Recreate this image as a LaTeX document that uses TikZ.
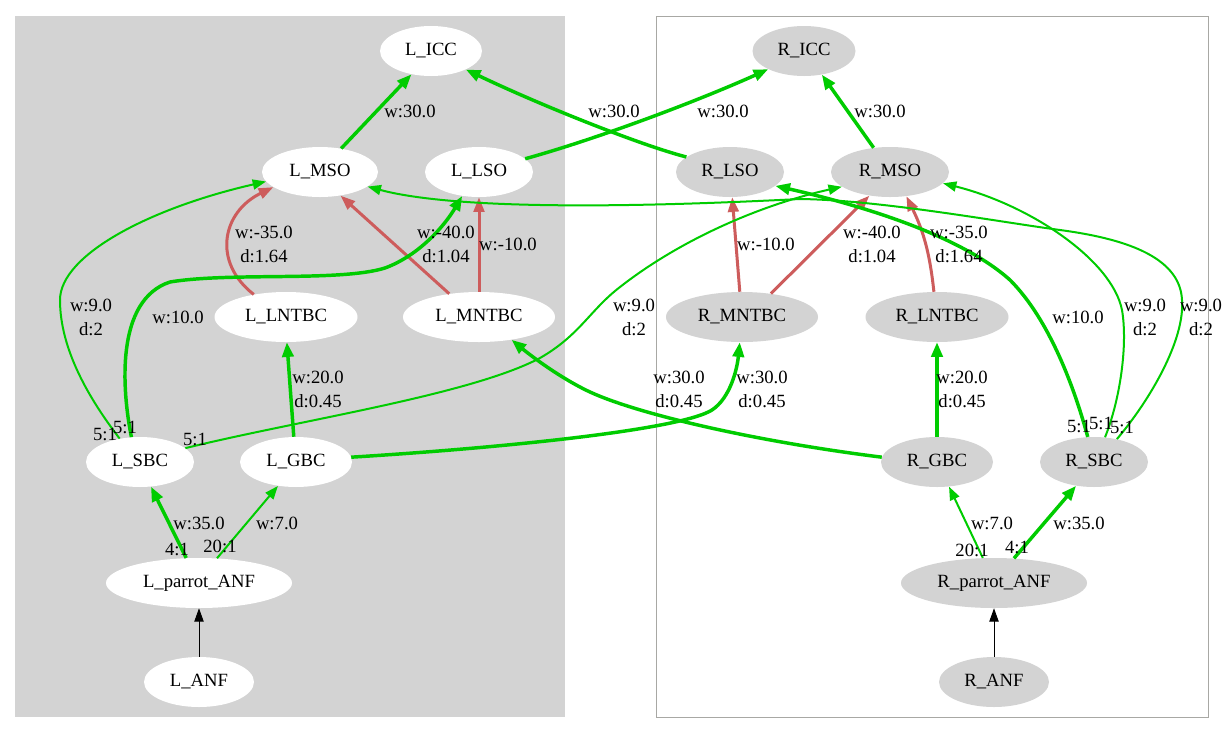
\documentclass[tikz,border=0pt]{standalone}
\usepackage{fontspec}
\setmainfont{Liberation Serif}
\usetikzlibrary{shapes.geometric,arrows.meta}
\definecolor{gr}{RGB}{0,204,0}
\definecolor{rd}{RGB}{205,92,92}
\definecolor{lg}{RGB}{211,211,211}
\definecolor{bx}{RGB}{168,168,164}
\tikzset{
 nd/.style={ellipse, inner sep=0pt, minimum height=37.5pt, font=\fontsize{14}{16}\selectfont},
 ln/.style={nd, fill=white},
 rn/.style={nd, fill=lg},
 lab/.style={font=\fontsize{14}{18}\selectfont, align=center, inner sep=0pt},
 thk/.style={draw=gr, line width=2.6pt, -{Triangle[length=11pt,width=8.5pt]}},
 thn/.style={draw=gr, line width=1.5pt, -{Triangle[length=10pt,width=7.5pt]}},
 rdd/.style={draw=rd, line width=2.25pt, -{Triangle[length=11pt,width=8pt]}},
 blk/.style={draw=black, line width=0.75pt, -{Triangle[length=10pt,width=7pt]}},
}
\begin{document}
\begin{tikzpicture}[x=0.75pt,y=-0.75pt]
\useasboundingbox (0,0) rectangle (1228,733);
\fill[white] (0,0) rectangle (1228,733);
% clusters
\fill[lg] (15,16) rectangle (565,717);
\draw[bx, line width=0.75pt] (656,16) rectangle (1208,717);
% left nodes
\node[ln, minimum width=76.5pt] (LICC) at (431,51) {L\_ICC};
\node[ln, minimum width=87pt] (LMSO) at (320,172) {L\_MSO};
\node[ln, minimum width=81pt] (LLSO) at (479,172) {L\_LSO};
\node[ln, minimum width=107.25pt] (LLNTBC) at (286,317) {L\_LNTBC};
\node[ln, minimum width=114pt] (LMNTBC) at (479,317) {L\_MNTBC};
\node[ln, minimum width=81pt] (LSBC) at (140,462) {L\_SBC};
\node[ln, minimum width=84pt] (LGBC) at (296,462) {L\_GBC};
\node[ln, minimum width=139.5pt] (LPANF) at (199,583) {L\_parrot\_ANF};
\node[ln, minimum width=82.5pt] (LANF) at (199,682) {L\_ANF};
% right nodes
\node[rn, minimum width=77.25pt] (RICC) at (804,51) {R\_ICC};
\node[rn, minimum width=81pt] (RLSO) at (730,172) {R\_LSO};
\node[rn, minimum width=88.5pt] (RMSO) at (890,172) {R\_MSO};
\node[rn, minimum width=114pt] (RMNTBC) at (742,317) {R\_MNTBC};
\node[rn, minimum width=107.25pt] (RLNTBC) at (937,317) {R\_LNTBC};
\node[rn, minimum width=84pt] (RGBC) at (937,462) {R\_GBC};
\node[rn, minimum width=81pt] (RSBC) at (1094,462) {R\_SBC};
\node[rn, minimum width=139.5pt] (RPANF) at (994,583) {R\_parrot\_ANF};
\node[rn, minimum width=82.5pt] (RANF) at (994,682) {R\_ANF};
% edges to ICC
\draw[thk] (LMSO.48) -- (LICC.230);
\draw[thk] (LLSO.16) .. controls (600,138) and (700,100) .. (RICC.207);
\draw[thk] (RLSO.161) .. controls (640,145) and (540,105) .. (LICC.-28);
\draw[thk] (RMSO.124) -- (RICC.-53);
% left red
\draw[rdd] (LLNTBC.145) .. controls (212,262) and (222,212) .. (LMSO.-162);
\draw[rdd] (LMNTBC.142) -- (LMSO.-49);
\draw[rdd] (LMNTBC.90) -- (LLSO.-90);
% right red
\draw[rdd] (RMNTBC.95) -- (RLSO.-85);
\draw[rdd] (RMNTBC.39) -- (RMSO.-131);
\draw[rdd] (RLNTBC.97) to[bend right=10] (RMSO.-56);
% left green
\draw[thn] (LSBC.131) .. controls (90,400) and (60,350) .. (60,300)
  .. controls (60,255) and (150,208) .. (LMSO.-170);
\draw[thk] (LSBC.109) .. controls (122,390) and (115,300) .. (170,282)
  .. controls (230,272) and (340,282) .. (385,268)
  .. controls (420,255) and (445,225) .. (LLSO.-125);
\draw[thk] (LGBC.95) -- (LLNTBC.-88);
\draw[thk] (LPANF.117) -- (LSBC.-66);
\draw[thn] (LPANF.54) -- (LGBC.-127);
\draw[blk] (LANF) -- (LPANF);
% crossing edges
\draw[thn] (LSBC.17) .. controls (300,420) and (470,395) .. (540,358)
  .. controls (580,335) and (590,310) .. (620,287)
  .. controls (680,240) and (760,205) .. (RMSO.-163);
\draw[thk] (LGBC.5) .. controls (500,448) and (680,430) .. (712,410)
  .. controls (730,398) and (737,370) .. (RMNTBC.-95);
\draw[thk] (RGBC.175) .. controls (760,442) and (640,415) .. (590,392)
  .. controls (560,378) and (530,355) .. (LMNTBC.-35);
\draw[thn] (RSBC.45) .. controls (1150,400) and (1185,340) .. (1182,300)
  .. controls (1180,255) and (1120,238) .. (1060,230)
  .. controls (1000,222) and (880,200) .. (800,199)
  .. controls (700,204) and (470,214) .. (LMSO.-17);
% right green
\draw[thk] (RSBC.104) .. controls (1075,390) and (1050,320) .. (1010,280)
  .. controls (960,235) and (860,205) .. (RLSO.-17);
\draw[thn] (RSBC.66) .. controls (1120,400) and (1128,345) .. (1122,310)
  .. controls (1112,260) and (1030,205) .. (RMSO.-12);
\draw[thk] (RGBC.90) -- (RLNTBC.-90);
\draw[thn] (RPANF.114) -- (RGBC.-64);
\draw[thk] (RPANF.51) -- (RSBC.-127);
\draw[blk] (RANF) -- (RPANF);
% labels
\node[lab] (t1) at (410,111) {w:30.0};
\node[lab] (t2) at (614,111) {w:30.0};
\node[lab] (t3) at (723,111) {w:30.0};
\node[lab] (t4) at (880,111) {w:30.0};
\node[lab] (t5) at (264,244) {w:-35.0\\d:1.64};
\node[lab] (t6) at (446,244) {w:-40.0\\d:1.04};
\node[lab] (t7) at (508,244) {w:-10.0};
\node[lab] (t8) at (91,317) {w:9.0\\d:2};
\node[lab] (t9) at (178,317) {w:10.0};
\node[lab] (t10) at (318,389) {w:20.0\\d:0.45};
\node[lab] (t11) at (199,523) {w:35.0};
\node[lab] (t12) at (277,523) {w:7.0};
\node[lab] (t13) at (177,549) {4:1};
\node[lab] (t14) at (220,546) {20:1};
\node[lab] (t15) at (105,434) {5:1};
\node[lab] (t16) at (125,427) {5:1};
\node[lab] (t17) at (195,439) {5:1};
\node[lab] (t18) at (634,317) {w:9.0\\d:2};
\node[lab] (t19) at (679,389) {w:30.0\\d:0.45};
\node[lab] (t20) at (762,389) {w:30.0\\d:0.45};
\node[lab] (t21) at (766,244) {w:-10.0};
\node[lab] (t22) at (872,244) {w:-40.0\\d:1.04};
\node[lab] (t23) at (959,244) {w:-35.0\\d:1.64};
\node[lab] (t24) at (1078,317) {w:10.0};
\node[lab] (t25) at (1145,317) {w:9.0\\d:2};
\node[lab] (t26) at (1201,317) {w:9.0\\d:2};
\node[lab] (t27) at (962,389) {w:20.0\\d:0.45};
\node[lab] (t28) at (992,523) {w:7.0};
\node[lab] (t29) at (1079,523) {w:35.0};
\node[lab] (t30) at (972,550) {20:1};
\node[lab] (t31) at (1017,547) {4:1};
\node[lab] (t32) at (1079,426) {5:1};
\node[lab] (t33) at (1101,423) {5:1};
\node[lab] (t34) at (1122,427) {5:1};
\end{tikzpicture}
\end{document}
